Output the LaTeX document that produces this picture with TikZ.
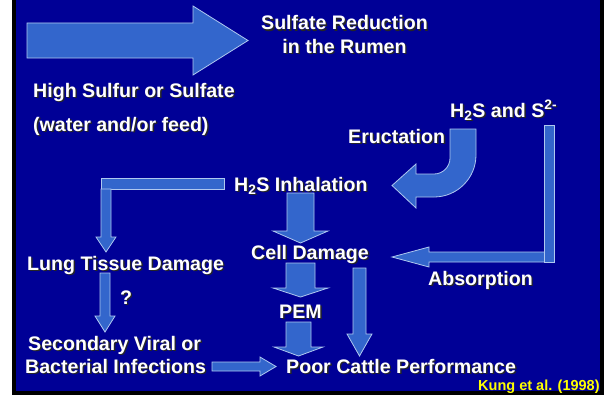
\documentclass[tikz,border=0pt]{standalone}
\usepackage{fontspec}
\setmainfont{Liberation Sans}
\usetikzlibrary{calc}
\definecolor{bgblue}{RGB}{0,0,150}
\definecolor{arrblue}{RGB}{51,102,204}
\definecolor{arredge}{RGB}{175,200,240}
\definecolor{kyellow}{RGB}{255,255,0}
\newcommand{\stext}[5][txt]{%
  \node[txtshadow,anchor=#3] at ($(#4)+(1.4,1.4)$) {#5};
  \node[#1,anchor=#3] (#2) at (#4) {#5};}
\begin{document}
\begin{tikzpicture}[x=1pt,y=-1pt,
  txt/.style={inner sep=0pt,text=white,font=\fontsize{19.6}{23}\selectfont\bfseries},
  txtshadow/.style={inner sep=0pt,text=black!85,font=\fontsize{19.6}{23}\selectfont\bfseries},
  ref/.style={inner sep=0pt,text=kyellow,font=\fontsize{14.5}{17}\selectfont\bfseries},
  blockarrow/.style={fill=arrblue,draw=arredge,line width=0.8pt,line join=miter}]
\useasboundingbox (0,0) rectangle (609,396);
\begin{scope}
\clip (0,0) rectangle (609,396);
\fill[white] (0,0) rectangle (609,396);
\fill[black] (12,-5) rectangle (604,395);
\fill[bgblue] (16,-5) rectangle (600,391);

% big input arrow
\draw[blockarrow] (27,23) -- (193,23) -- (193,6) -- (248,40.5) -- (193,75) -- (193,58) -- (27,58) -- cycle;

% eructation curved arrow
\draw[blockarrow] (450,129) -- (476,129) -- (476,155) arc[start angle=0,end angle=90,radius=42]
  -- (416,197) -- (416,208) -- (392,185.5) -- (416,164) -- (416,174) -- (434,174)
  arc[start angle=90,end angle=0,radius=16] -- cycle;

% absorption bracket arrow
\draw[blockarrow] (554,252) -- (429,252) -- (429,247) -- (392,257) -- (429,267) -- (429,262) -- (554,262) -- cycle;
\draw[blockarrow] (544,125) rectangle (554,262);

% inhalation bracket to lung
\draw[blockarrow] (101,178) rectangle (224,189);
\draw[blockarrow] (101,189) -- (111,189) -- (111,237) -- (116,237) -- (106,252) -- (96,237) -- (101,237) -- cycle;

% lung -> secondary
\draw[blockarrow] (100,273) -- (110,273) -- (110,316) -- (115,316) -- (105,332) -- (95,316) -- (100,316) -- cycle;

% secondary -> poor
\draw[blockarrow] (212,362) -- (260,362) -- (260,357) -- (276,366.5) -- (260,376) -- (260,371) -- (212,371) -- cycle;

% inhalation -> cell damage
\draw[blockarrow] (287,193) -- (314,193) -- (314,231) -- (328,231) -- (300.5,243) -- (273,231) -- (287,231) -- cycle;

% cell damage -> PEM
\draw[blockarrow] (286,263) -- (315,263) -- (315,288) -- (328,288) -- (300.5,297) -- (273,288) -- (286,288) -- cycle;

% PEM -> poor
\draw[blockarrow] (286,322) -- (311,322) -- (311,347) -- (323,347) -- (298.5,356) -- (274,347) -- (286,347) -- cycle;

% cell damage -> poor (narrow)
\draw[blockarrow] (353,268) -- (366,268) -- (366,334) -- (372,334) -- (359.5,356) -- (347,334) -- (353,334) -- cycle;

% texts
\stext{sr1}{base}{344.5,30}{Sulfate Reduction}
\stext{sr2}{base}{344.5,53}{in the Rumen}
\stext{hs1}{base west}{33,97}{High Sulfur or Sulfate}
\stext{hs2}{base west}{33,131}{(water and/or feed)}
\stext{hss}{base west}{450,117}{H\textsubscript{2}S and S\textsuperscript{2-}}
\stext{eru}{base west}{348,143}{Eructation}
\stext{inh}{base west}{234,191}{H\textsubscript{2}S Inhalation}
\stext{cell}{base west}{251,259}{Cell Damage}
\stext{pem}{base west}{279,318}{PEM}
\stext{poor}{base west}{286,373}{Poor Cattle Performance}
\stext{abs}{base west}{428,285}{Absorption}
\stext{lung}{base west}{27,270}{Lung Tissue Damage}
\stext{q}{base}{126,304}{?}
\stext{sec1}{base west}{28,350}{Secondary Viral or}
\stext{sec2}{base west}{25,373}{Bacterial Infections}
\node[ref,anchor=base west] (kung) at (478,390) {Kung et al. (1998)};
\end{scope}
\end{tikzpicture}
\end{document}
